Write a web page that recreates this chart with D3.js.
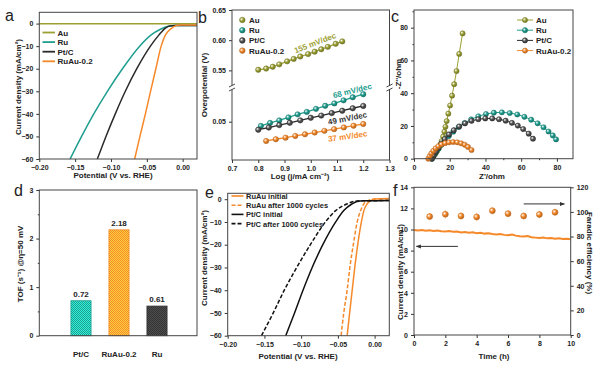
<!DOCTYPE html>
<html>
<head>
<meta charset="utf-8">
<script src="https://cdn.jsdelivr.net/npm/d3@7"></script>
<style>
body { margin: 0; background: #fff; }
svg text { font-family: "Liberation Sans", Arial, sans-serif; font-weight: bold; fill: #222; }
</style>
</head>
<body>
<svg id="fig" width="600" height="370"></svg>
<script>
// ---- data ----
// a: LSV, [potential (V vs RHE), current density (mA/cm2)]
var lsvAu = [[-0.20, -0.1], [0.02, -0.1]];
var lsvRu = [[-0.157, -60], [-0.141, -50], [-0.124, -40], [-0.105, -30], [-0.084, -20], [-0.060, -10], [-0.044, -5], [-0.031, -2.5], [-0.020, -1.2], [-0.010, -0.9], [0.0, -0.9], [0.02, -0.9]];
var lsvPt = [[-0.119, -60], [-0.107, -50], [-0.094, -40], [-0.080, -30], [-0.064, -20], [-0.045, -10], [-0.033, -5], [-0.024, -2], [-0.018, -1.1], [-0.010, -0.9], [0.0, -0.9], [0.02, -0.9]];
var lsvRuAu = [[-0.067, -60], [-0.0596, -50], [-0.052, -40], [-0.0448, -30], [-0.0374, -20], [-0.030, -10], [-0.024, -5], [-0.016, -2.2], [-0.010, -1.0], [-0.004, -0.6], [0.02, -0.6]];

// b: Tafel, [log j, overpotential (V)]
var tafelAu = [[0.80, 0.551], [0.83, 0.553], [0.855, 0.556], [0.88, 0.560], [0.91, 0.565], [0.935, 0.569], [0.96, 0.573], [0.99, 0.577], [1.015, 0.581], [1.04, 0.585], [1.065, 0.589], [1.095, 0.594], [1.12, 0.598]];
var tafelRu = [[0.81, 0.0465], [0.845, 0.049], [0.88, 0.051], [0.915, 0.0535], [0.95, 0.056], [0.985, 0.058], [1.02, 0.0605], [1.055, 0.063], [1.09, 0.065], [1.125, 0.0675], [1.16, 0.070], [1.20, 0.0725]];
var tafelPt = [[0.80, 0.0434], [0.84, 0.0452], [0.88, 0.0472], [0.92, 0.0491], [0.96, 0.0511], [1.00, 0.0532], [1.04, 0.0550], [1.08, 0.0571], [1.12, 0.0590], [1.16, 0.0610], [1.20, 0.0629]];
var tafelRuAu = [[0.83, 0.0342], [0.867, 0.0356], [0.904, 0.0369], [0.941, 0.0383], [0.978, 0.0397], [1.015, 0.0411], [1.052, 0.0425], [1.089, 0.0439], [1.126, 0.0453], [1.163, 0.0467], [1.20, 0.0481]];
var tafelSlopes = ["155 mV/dec", "68 mV/dec", "49 mV/dec", "37 mV/dec"];

// c: Nyquist, [Z', -Z'']
var nyqAu = [[10, 0], [11, 1.5], [12, 3], [13, 4.8], [14, 6.6], [14.8, 8.6], [15.5, 10.8], [16.3, 13.5], [17, 16.5], [17.6, 19.5], [18.3, 23], [19.2, 27.5], [20.2, 32.5], [21.3, 38.5], [22.5, 45.5], [23.8, 53.5], [25.3, 64], [27.2, 76.5]];
var nyqRu = [[10, 0], [11, 1.8], [12.3, 3.8], [13.7, 6], [15.3, 8.4], [17.2, 11], [19.5, 13.8], [22, 16.5], [25, 19.3], [28.3, 21.8], [32, 24], [36, 25.9], [40.3, 27.3], [44.7, 28.1], [49.2, 28.3], [53.6, 27.9], [57.8, 27], [61.8, 25.6], [65.6, 23.8], [69.2, 21.6], [72.5, 19.2], [75.3, 16.6], [77.7, 14.2], [79.5, 11.8]];
var nyqPt = [[10, 0], [11, 2], [12.2, 4.2], [13.6, 6.6], [15.2, 9.2], [17.2, 12], [19.6, 14.8], [22.3, 17.4], [25.3, 19.7], [28.6, 21.6], [32.2, 23.1], [36, 24.1], [39.9, 24.6], [43.8, 24.6], [47.6, 24.1], [51.3, 23.2], [54.8, 21.9], [58.1, 20.2], [61.1, 18.1], [64.2, 15.3], [66.6, 12.2]];
var nyqRuAu = [[8, 0], [8.8, 1.6], [9.7, 3.2], [10.8, 4.8], [12.1, 6.3], [13.6, 7.6], [15.4, 8.7], [17.4, 9.5], [19.6, 10.0], [21.9, 10.2], [24.2, 10.0], [26.4, 9.4], [28.4, 8.5], [30.2, 7.2], [32.2, 5.3]];

// d: TOF
var tofNames = ["Pt/C", "RuAu-0.2", "Ru"];
var tofValues = [0.72, 2.18, 0.61];

// e: stability LSV, [potential, current density]
var cycRuAuInit = [[-0.0374, -60], [-0.034, -50], [-0.0305, -40], [-0.027, -30], [-0.023, -20], [-0.018, -10], [-0.0146, -5], [-0.010, -2], [-0.005, -0.6], [0.0, 0.1], [0.02, 0.3]];
var cycRuAuAfter = [[-0.0456, -60], [-0.042, -50], [-0.0374, -40], [-0.0337, -30], [-0.029, -20], [-0.0237, -10], [-0.019, -5], [-0.0146, -2], [-0.008, -0.5], [0.0, 0.1], [0.02, 0.2]];
var cycPtInit = [[-0.121, -60], [-0.109, -50], [-0.0975, -40], [-0.085, -30], [-0.0705, -20], [-0.053, -10], [-0.042, -5], [-0.0305, -2], [-0.024, -1], [-0.015, -0.7], [0.02, -0.6]];
var cycPtAfter = [[-0.154, -60], [-0.138, -50], [-0.123, -40], [-0.106, -30], [-0.0875, -20], [-0.067, -10], [-0.053, -5], [-0.037, -2], [-0.028, -1], [-0.018, -0.7], [0.02, -0.6]];

// f: chronoamperometry (every 0.25 h) and faradaic efficiency
var chronoCurrent = [9.96, 9.91, 9.95, 9.88, 9.93, 9.85, 9.90, 9.83, 9.80, 9.86, 9.78, 9.80, 9.72, 9.77, 9.69, 9.73, 9.65, 9.70, 9.61, 9.65, 9.57, 9.53, 9.58, 9.49, 9.46, 9.53, 9.42, 9.36, 9.33, 9.38, 9.26, 9.23, 9.19, 9.25, 9.16, 9.20, 9.12, 9.17, 9.09, 9.13, 9.08];
var feTime = [1, 2, 3, 4, 5, 6, 7, 8, 9];
var feValues = [96.2, 98.1, 96.7, 95.9, 101.0, 98.6, 96.7, 97.9, 99.7];
var feError = [3, 3.5, 3, 3.5, 3, 3, 3, 3, 3];

// colours
var cAu = "#9ba033", cRu = "#1f9e8f", cPt = "#2a2a2a", cRuAu = "#f5892a";

var svg = d3.select("#fig");
var defs = svg.append("defs");

// shaded ball markers
function ball(id, col) {
    var g = defs.append("radialGradient").attr("id", id).attr("cx", "35%").attr("cy", "35%").attr("r", "70%");
    g.append("stop").attr("offset", "0%").attr("stop-color", "#fff");
    g.append("stop").attr("offset", "45%").attr("stop-color", col);
    g.append("stop").attr("offset", "100%").attr("stop-color", d3.color(col).darker(1));
}
ball("gAu", cAu); ball("gRu", cRu); ball("gPt", "#555"); ball("gRuAu", cRuAu);

// checkered bar fills
function checker(id, col) {
    var p = defs.append("pattern").attr("id", id).attr("width", 2).attr("height", 2).attr("patternUnits", "userSpaceOnUse");
    p.append("rect").attr("width", 2).attr("height", 2).attr("fill", d3.color(col).brighter(1.2));
    p.append("rect").attr("width", 1).attr("height", 1).attr("fill", col);
    p.append("rect").attr("x", 1).attr("y", 1).attr("width", 1).attr("height", 1).attr("fill", col);
}
checker("pPt", cRu); checker("pRuAu", cRuAu); checker("pRu", "#333");

function styleAxis(g) {
    g.select(".domain").remove();
    g.selectAll(".tick line").attr("stroke", "#333");
    g.selectAll(".tick text").attr("font-size", 7);
}
function frame(x0, x1, y0, y1) {
    svg.append("rect").attr("x", x0).attr("y", y0).attr("width", x1 - x0).attr("height", y1 - y0)
        .attr("fill", "none").attr("stroke", "#444").attr("stroke-width", 1);
}
function title(txt, x, y, rot, size) {
    var t = svg.append("text").attr("text-anchor", "middle").attr("font-size", size || 8)
        .attr("transform", "translate(" + x + "," + y + ")" + (rot ? " rotate(" + rot + ")" : ""));
    t.text(txt);
    return t;
}
function letter(txt, x, y) {
    svg.append("text").attr("x", x).attr("y", y).attr("font-size", 16).style("font-weight", "normal").text(txt);
}

// ================= a =================
var xa = d3.scaleLinear().domain([-0.2, 0.02]).range([39.3, 197]);
var ya = d3.scaleLinear().domain([-60, 5]).range([159, 12.3]);
svg.append("g").attr("transform", "translate(0,159)")
    .call(d3.axisBottom(xa).tickValues([-0.2, -0.15, -0.1, -0.05, 0]).tickFormat(d3.format(".2f")).tickSize(3)).call(styleAxis);
svg.append("g").attr("transform", "translate(39.3,0)")
    .call(d3.axisLeft(ya).tickValues([0, -10, -20, -30, -40, -50, -60]).tickFormat(d3.format("d")).tickSize(3)).call(styleAxis);
var lineA = d3.line().x(function(d) { return xa(d[0]); }).y(function(d) { return ya(d[1]); }).curve(d3.curveMonotoneX);
var seriesA = [[lsvAu, cAu], [lsvRu, cRu], [lsvPt, cPt], [lsvRuAu, cRuAu]];
seriesA.forEach(function(s) {
    svg.append("path").attr("d", lineA(s[0])).attr("fill", "none").attr("stroke", s[1]).attr("stroke-width", 1.5);
});
frame(39.3, 197, 12.3, 159);
var legA = ["Au", "Ru", "Pt/C", "RuAu-0.2"];
legA.forEach(function(n, i) {
    var y = 32.5 + i * 9.6;
    svg.append("line").attr("x1", 42.5).attr("x2", 55).attr("y1", y).attr("y2", y).attr("stroke", seriesA[i][1]).attr("stroke-width", 1.8);
    svg.append("text").attr("x", 57.5).attr("y", y + 3).attr("font-size", 8).text(n);
});
title("Potential (V vs. RHE)", 113, 178);
title("Current density (mA/cm\u00b2)", 21, 87, -90);
letter("a", 5, 21);

// ================= b =================
var xb = d3.scaleLinear().domain([0.7, 1.3]).range([232, 389.5]);
var ybUp = d3.scaleLinear().domain([0.52, 0.65]).range([88.5, 10]);
var ybLo = d3.scaleLinear().domain([0.0186, 0.0776]).range([160, 88]);
svg.append("g").attr("transform", "translate(0,160)")
    .call(d3.axisBottom(xb).tickValues([0.7, 0.8, 0.9, 1.0, 1.1, 1.2, 1.3]).tickFormat(d3.format(".1f")).tickSize(3)).call(styleAxis);
svg.append("g").attr("transform", "translate(232,0)")
    .call(d3.axisLeft(ybUp).tickValues([0.55, 0.6, 0.65]).tickFormat(d3.format(".2f")).tickSize(3)).call(styleAxis);
svg.append("g").attr("transform", "translate(232,0)")
    .call(d3.axisLeft(ybLo).tickValues([0.05]).tickFormat(d3.format(".2f")).tickSize(3)).call(styleAxis);
frame(232, 389.5, 10, 160);
// axis breaks
[232, 389.5].forEach(function(x) {
    svg.append("rect").attr("x", x - 3).attr("y", 85.5).attr("width", 6).attr("height", 4).attr("fill", "#fff");
    [85.5, 89.5].forEach(function(y) {
        svg.append("line").attr("x1", x - 3).attr("x2", x + 3).attr("y1", y + 1.5).attr("y2", y - 1.5).attr("stroke", "#333").attr("stroke-width", 0.9);
    });
});
var seriesB = [[tafelAu, cAu, "gAu", ybUp], [tafelRu, cRu, "gRu", ybLo], [tafelPt, cPt, "gPt", ybLo], [tafelRuAu, cRuAu, "gRuAu", ybLo]];
seriesB.forEach(function(s) {
    var yy = s[3];
    var ln = d3.line().x(function(d) { return xb(d[0]); }).y(function(d) { return yy(d[1]); });
    svg.append("path").attr("d", ln(s[0])).attr("fill", "none").attr("stroke", s[1]).attr("stroke-width", 1.3);
    svg.selectAll(null).data(s[0]).enter().append("circle")
        .attr("cx", function(d) { return xb(d[0]); }).attr("cy", function(d) { return yy(d[1]); })
        .attr("r", 2.7).attr("fill", "url(#" + s[2] + ")").attr("stroke", d3.color(s[1]).darker(0.8)).attr("stroke-width", 0.5);
});
legA.forEach(function(n, i) {
    var y = 20 + i * 10.2;
    svg.append("circle").attr("cx", 242.3).attr("cy", y).attr("r", 2.8).attr("fill", "url(#" + seriesB[i][2] + ")")
        .attr("stroke", d3.color(seriesB[i][1]).darker(0.8)).attr("stroke-width", 0.5);
    svg.append("text").attr("x", 249).attr("y", y + 3).attr("font-size", 8).text(n);
});
var slopeCol = [cAu, cRu, "#333", cRuAu];
var slopePos = [[316, 45.5, -21], [353, 93.5, -14], [348, 121, -11], [348, 139, -8]];
tafelSlopes.forEach(function(t, i) {
    svg.append("text").attr("text-anchor", "middle").attr("font-size", 8)
        .attr("transform", "translate(" + slopePos[i][0] + "," + slopePos[i][1] + ") rotate(" + slopePos[i][2] + ")")
        .style("fill", slopeCol[i]).text(t);
});
title("Log (j/mA cm\u207b\u00b2)", 300, 179);
title("Overpotential (V)", 207, 85, -90);
letter("b", 198, 23);

// ================= c =================
var xc = d3.scaleLinear().domain([0, 89]).range([414, 573]);
var yc = d3.scaleLinear().domain([0, 90.8]).range([158.7, 10]);
svg.append("g").attr("transform", "translate(0,158.7)")
    .call(d3.axisBottom(xc).tickValues([0, 20, 40, 60, 80]).tickSize(3)).call(styleAxis);
svg.append("g").attr("transform", "translate(414,0)")
    .call(d3.axisLeft(yc).tickValues([0, 20, 40, 60, 80]).tickSize(3)).call(styleAxis);
svg.append("g").attr("transform", "translate(414,0)")
    .call(d3.axisLeft(yc).tickValues([10, 30, 50, 70, 90]).tickSize(1.5).tickFormat("")).call(styleAxis);
svg.append("g").attr("transform", "translate(0,158.7)")
    .call(d3.axisBottom(xc).tickValues([10, 30, 50, 70]).tickSize(1.5).tickFormat("")).call(styleAxis);
var seriesC = [[nyqAu, cAu, "gAu"], [nyqRu, cRu, "gRu"], [nyqPt, cPt, "gPt"], [nyqRuAu, cRuAu, "gRuAu"]];
var lineC = d3.line().x(function(d) { return xc(d[0]); }).y(function(d) { return yc(d[1]); });
seriesC.forEach(function(s) {
    svg.append("path").attr("d", lineC(s[0])).attr("fill", "none").attr("stroke", s[1]).attr("stroke-width", 1);
    svg.selectAll(null).data(s[0]).enter().append("circle")
        .attr("cx", function(d) { return xc(d[0]); }).attr("cy", function(d) { return yc(d[1]); })
        .attr("r", 2.6).attr("fill", "url(#" + s[2] + ")").attr("stroke", d3.color(s[1]).darker(0.8)).attr("stroke-width", 0.5);
});
frame(414, 573, 10, 158.7);
legA.forEach(function(n, i) {
    var y = 20 + i * 10.2;
    svg.append("line").attr("x1", 517).attr("x2", 533).attr("y1", y).attr("y2", y).attr("stroke", seriesC[i][1]).attr("stroke-width", 1);
    svg.append("circle").attr("cx", 525).attr("cy", y).attr("r", 2.6).attr("fill", "url(#" + seriesC[i][2] + ")")
        .attr("stroke", d3.color(seriesC[i][1]).darker(0.8)).attr("stroke-width", 0.5);
    svg.append("text").attr("x", 536).attr("y", y + 3).attr("font-size", 8).text(n);
});
title("Z'/ohm", 492, 179);
title("-Z''/ohm", 401, 74, -90);
letter("c", 391, 22);

// ================= d =================
var xd = d3.scaleBand().domain(tofNames).range([62, 176]).paddingInner(0.47).paddingOuter(0.235);
var yd = d3.scaleLinear().domain([0, 3]).range([335.7, 190]);
svg.append("g").attr("transform", "translate(39.3,0)")
    .call(d3.axisLeft(yd).tickValues([0, 1, 2, 3]).tickFormat(d3.format("d")).tickSize(3)).call(styleAxis);
svg.append("g").attr("transform", "translate(39.3,0)")
    .call(d3.axisLeft(yd).tickValues([0.5, 1.5, 2.5]).tickSize(1.5).tickFormat("")).call(styleAxis);
var barFill = ["pPt", "pRuAu", "pRu"], barCol = [cRu, cRuAu, "#333"];
svg.selectAll(null).data(tofValues).enter().append("rect")
    .attr("x", function(d, i) { return xd(tofNames[i]); }).attr("width", xd.bandwidth())
    .attr("y", function(d) { return yd(d); }).attr("height", function(d) { return yd(0) - yd(d); })
    .attr("fill", function(d, i) { return "url(#" + barFill[i] + ")"; })
    .attr("stroke", function(d, i) { return barCol[i]; }).attr("stroke-width", 0.8);
svg.selectAll(null).data(tofValues).enter().append("text")
    .attr("x", function(d, i) { return xd(tofNames[i]) + xd.bandwidth() / 2; }).attr("y", function(d) { return yd(d) - 4; })
    .attr("text-anchor", "middle").attr("font-size", 8).text(function(d) { return d.toFixed(2); });
tofNames.forEach(function(n) {
    svg.append("text").attr("x", xd(n) + xd.bandwidth() / 2).attr("y", 357).attr("text-anchor", "middle").attr("font-size", 8).text(n);
});
frame(39.3, 197, 190, 335.7);
title("TOF (s\u207b\u00b9) @\u03b7=50 mV", 23, 264, -90);
letter("d", 14, 196);

// ================= e =================
var xe = d3.scaleLinear().domain([-0.2, 0.02]).range([227.7, 389.3]);
var ye = d3.scaleLinear().domain([-60, 2.6]).range([335.7, 193.3]);
svg.append("g").attr("transform", "translate(0,335.7)")
    .call(d3.axisBottom(xe).tickValues([-0.2, -0.15, -0.1, -0.05, 0]).tickFormat(d3.format(".2f")).tickSize(3)).call(styleAxis);
svg.append("g").attr("transform", "translate(227.7,0)")
    .call(d3.axisLeft(ye).tickValues([0, -10, -20, -30, -40, -50, -60]).tickFormat(d3.format("d")).tickSize(3)).call(styleAxis);
var lineE = d3.line().x(function(d) { return xe(d[0]); }).y(function(d) { return ye(d[1]); }).curve(d3.curveMonotoneX);
var seriesE = [[cycRuAuInit, cRuAu, null, "RuAu initial"], [cycRuAuAfter, cRuAu, "4,2", "RuAu after 1000 cycles"],
    [cycPtInit, "#111", null, "Pt/C initial"], [cycPtAfter, "#111", "4,2", "Pt/C after 1000 cycles"]];
seriesE.forEach(function(s) {
    svg.append("path").attr("d", lineE(s[0])).attr("fill", "none").attr("stroke", s[1]).attr("stroke-width", 1.5)
        .attr("stroke-dasharray", s[2]);
});
frame(227.7, 389.3, 193.3, 335.7);
seriesE.forEach(function(s, i) {
    var y = 196 + i * 9.2;
    svg.append("line").attr("x1", 231.5).attr("x2", 243.5).attr("y1", y).attr("y2", y).attr("stroke", s[1]).attr("stroke-width", 1.6)
        .attr("stroke-dasharray", s[2]);
    svg.append("text").attr("x", 246).attr("y", y + 3).attr("font-size", 7.5).text(s[3]);
});
title("Potential (V vs. RHE)", 298, 359);
title("Current density (mA/cm\u00b2)", 207, 258, -90);
letter("e", 205, 198);

// ================= f =================
var xf = d3.scaleLinear().domain([0, 10]).range([414, 570.7]);
var yfL = d3.scaleLinear().domain([0, 14]).range([335, 187.3]);
var yfR = d3.scaleLinear().domain([0, 120]).range([335, 187.3]);
svg.append("g").attr("transform", "translate(0,335)")
    .call(d3.axisBottom(xf).tickValues([0, 2, 4, 6, 8, 10]).tickSize(3)).call(styleAxis);
svg.append("g").attr("transform", "translate(414,0)")
    .call(d3.axisLeft(yfL).tickValues([0, 2, 4, 6, 8, 10, 12, 14]).tickSize(3)).call(styleAxis);
svg.append("g").attr("transform", "translate(570.7,0)")
    .call(d3.axisRight(yfR).tickValues([0, 20, 40, 60, 80, 100, 120]).tickSize(3)).call(styleAxis);
var lineF = d3.line().x(function(d, i) { return xf(i * 0.25); }).y(function(d) { return yfL(d); });
svg.append("path").attr("d", lineF(chronoCurrent)).attr("fill", "none").attr("stroke", cRuAu).attr("stroke-width", 2);
feTime.forEach(function(t, i) {
    svg.append("line").attr("x1", xf(t)).attr("x2", xf(t))
        .attr("y1", yfR(feValues[i] - feError[i])).attr("y2", yfR(feValues[i] + feError[i]))
        .attr("stroke", "#f7c08a").attr("stroke-width", 0.8);
    svg.append("circle").attr("cx", xf(t)).attr("cy", yfR(feValues[i])).attr("r", 3)
        .attr("fill", "url(#gRuAu)").attr("stroke", d3.color(cRuAu).darker(0.6)).attr("stroke-width", 0.5);
});
defs.append("marker").attr("id", "arr").attr("viewBox", "0 0 10 10").attr("refX", 9).attr("refY", 5)
    .attr("markerWidth", 5).attr("markerHeight", 5).attr("orient", "auto")
    .append("path").attr("d", "M0,1 L10,5 L0,9 z").attr("fill", "#333");
svg.append("line").attr("x1", xf(2.8)).attr("x2", xf(0.15)).attr("y1", yfL(8.4)).attr("y2", yfL(8.4))
    .attr("stroke", "#333").attr("stroke-width", 1).attr("marker-end", "url(#arr)");
svg.append("line").attr("x1", xf(7.0)).attr("x2", xf(9.6)).attr("y1", yfR(106.5)).attr("y2", yfR(106.5))
    .attr("stroke", "#333").attr("stroke-width", 1).attr("marker-end", "url(#arr)");
frame(414, 570.7, 187.3, 335);
title("Time (h)", 494, 359);
title("Current density (mA/cm\u00b2)", 403, 272, -90);
title("Faradic efficiency (%)", 587, 253, 90);
letter("f", 393, 196);
</script>
</body>
</html>
